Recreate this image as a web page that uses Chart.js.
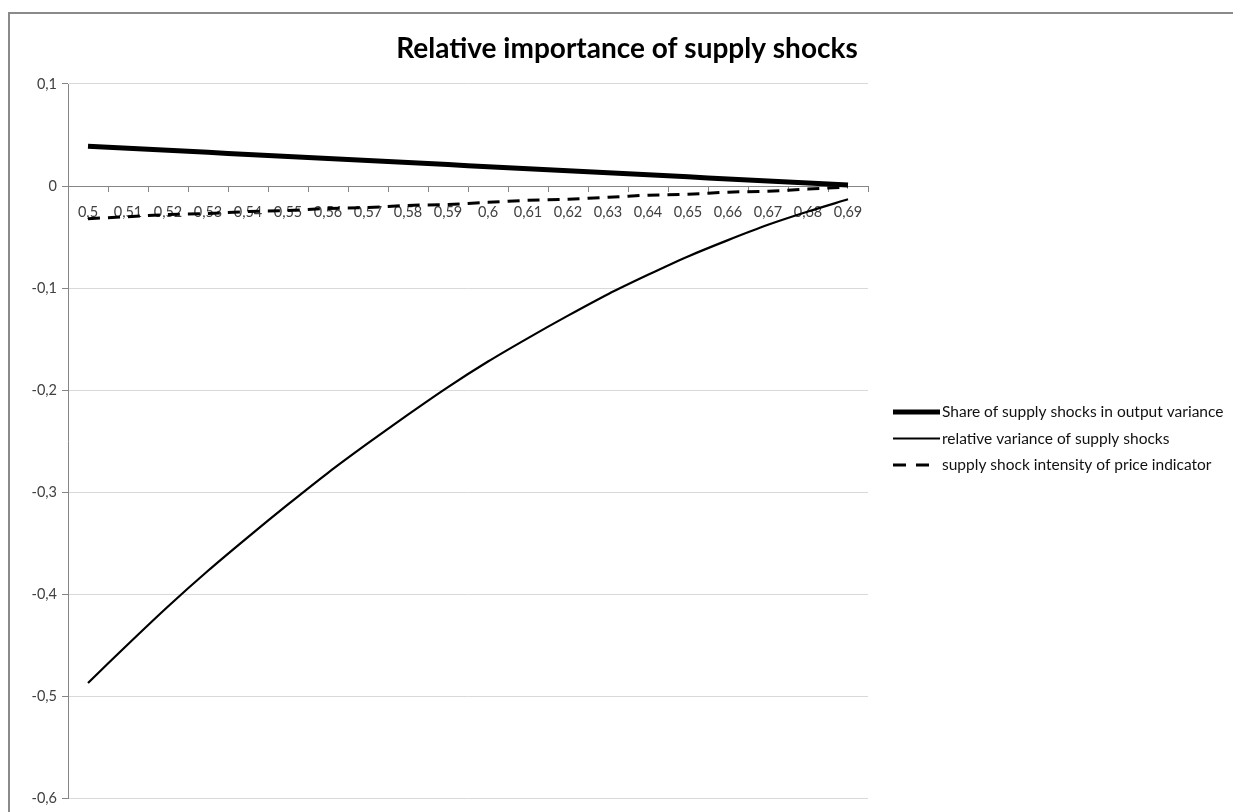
<!DOCTYPE html>
<html>
<head>
<meta charset="utf-8">
<script src="https://cdn.jsdelivr.net/npm/chart.js@4.4.0/dist/chart.umd.min.js"></script>
<style>
html,body{margin:0;padding:0;background:#fff;}
#wrap{position:relative;width:1233px;height:812px;overflow:hidden;}
canvas{display:block;}
</style>
</head>
<body>
<div id="wrap"><canvas id="c" width="1233" height="812"></canvas></div>
<script>
// ---- data ----
const categories = ['0,5','0,51','0,52','0,53','0,54','0,55','0,56','0,57','0,58','0,59',
                    '0,6','0,61','0,62','0,63','0,64','0,65','0,66','0,67','0,68','0,69'];
const shareOutputVariance = [0.039,0.037,0.035,0.033,0.031,0.029,0.027,0.025,0.023,0.021,
                             0.019,0.017,0.015,0.013,0.011,0.009,0.007,0.005,0.003,0.001];
const relativeVarianceSupply = [-0.487,-0.449,-0.412,-0.377,-0.344,-0.312,-0.281,-0.252,-0.224,-0.197,
                                -0.172,-0.149,-0.127,-0.106,-0.087,-0.069,-0.053,-0.038,-0.025,-0.013];
const priceIndicatorIntensity = [-0.032,-0.030,-0.028,-0.027,-0.025,-0.024,-0.022,-0.021,-0.019,-0.018,
                                 -0.016,-0.014,-0.013,-0.011,-0.009,-0.008,-0.006,-0.005,-0.003,-0.001];
const seriesNames = ['Share of supply shocks in output variance',
                     'relative variance of supply shocks',
                     'supply shock intensity of price indicator'];
const yMin = -0.6, yMax = 0.1, yStep = 0.1;
const titleText = 'Relative importance of supply shocks';

const FONT = 'Lato, "Open Sans", sans-serif';

const framePlugin = {
  id: 'frame',
  beforeDraw(chart) {
    const ctx = chart.ctx;
    ctx.save();
    ctx.fillStyle = '#fff';
    ctx.fillRect(0, 0, chart.width, chart.height);
    ctx.strokeStyle = '#8a8a8a';
    ctx.lineWidth = 2;
    ctx.strokeRect(9, 13, 1300, 900);
    ctx.restore();
  },
  afterDraw(chart) {
    const ctx = chart.ctx;
    ctx.save();
    // title
    ctx.fillStyle = '#000';
    ctx.font = 'bold 28px ' + FONT;
    ctx.textAlign = 'center';
    ctx.textBaseline = 'middle';
    ctx.fillText(titleText, 627, 49);
    // legend
    const ys = [412, 438.5, 465];
    chart.data.datasets.forEach((ds, i) => {
      ctx.save();
      ctx.strokeStyle = ds.borderColor;
      ctx.lineWidth = ds.borderWidth;
      ctx.setLineDash(ds.borderDash ? [13, 10] : []);
      ctx.beginPath();
      ctx.moveTo(893, ys[i]);
      ctx.lineTo(ds.borderDash ? 929 : 940, ys[i]);
      ctx.stroke();
      ctx.restore();
      ctx.fillStyle = '#111';
      ctx.font = '15.5px ' + FONT;
      ctx.textAlign = 'left';
      ctx.textBaseline = 'middle';
      ctx.fillText(ds.label, 942, ys[i]);
    });
    ctx.restore();
  }
};

const fmt = v => {
  const r = Math.round(v * 10) / 10;
  if (r === 0) return '0';
  return String(r).replace('.', ',');
};

new Chart(document.getElementById('c'), {
  type: 'line',
  data: {
    labels: categories,
    datasets: [
      { label: seriesNames[0], data: shareOutputVariance, borderColor: '#000', borderWidth: 5,
        pointRadius: 0, tension: 0.3, fill: false },
      { label: seriesNames[1], data: relativeVarianceSupply, borderColor: '#000', borderWidth: 2.2,
        pointRadius: 0, tension: 0.3, fill: false },
      { label: seriesNames[2], data: priceIndicatorIntensity, borderColor: '#000', borderWidth: 3,
        borderDash: [12, 8], pointRadius: 0, tension: 0.3, fill: false }
    ]
  },
  options: {
    responsive: false,
    animation: false,
    devicePixelRatio: 1,
    layout: { padding: { left: 0, top: 84, right: 365, bottom: 10 } },
    plugins: { legend: { display: false }, title: { display: false }, tooltip: { enabled: false } },
    scales: {
      x: {
        type: 'category',
        offset: true,
        position: { y: 0 },
        grid: { drawOnChartArea: false, drawTicks: true, tickLength: 5, color: '#868686', offset: true },
        border: { color: '#868686', width: 1 },
        ticks: { autoSkip: false, maxRotation: 0, minRotation: 0, padding: 13,
                 color: '#404040', font: { family: FONT, size: 14.5 } }
      },
      y: {
        min: yMin, max: yMax,
        afterFit(scale) { scale.width = 68; },
        afterBuildTicks(scale) {
          const t = [];
          for (let k = 0; k <= Math.round((yMax - yMin) / yStep); k++) t.push({ value: yMin + k * yStep });
          scale.ticks = t;
        },
        grid: { color: '#d9d9d9', tickColor: '#868686', tickLength: 6, lineWidth: 1 },
        border: { color: '#868686', width: 1 },
        ticks: { padding: 5, color: '#404040', font: { family: FONT, size: 14.5 }, callback: v => fmt(v) }
      }
    }
  },
  plugins: [framePlugin]
});
</script>
</body>
</html>
